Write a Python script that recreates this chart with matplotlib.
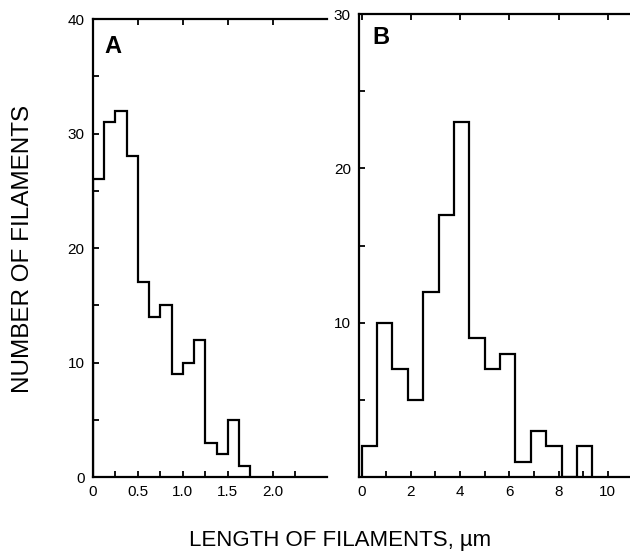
import numpy as np
import matplotlib
matplotlib.use("Agg")
import matplotlib.pyplot as plt
from matplotlib.ticker import MultipleLocator, FixedLocator

plt.rcParams['font.family'] = ['Liberation Sans', 'DejaVu Sans']

# panel A: filament length histogram, bins of 0.125 um
bin_width_a = 0.125
counts_a = [26, 31, 32, 28, 17, 14, 15, 9, 10, 12, 3, 2, 5, 1]
ticks_a = [0, 0.5, 1.0, 1.5, 2.0]
tick_labels_a = ["0", "0.5", "1.0", "1.5", "2.0"]

# panel B: bins of 0.625 um
bin_width_b = 0.625
counts_b = [2, 10, 7, 5, 12, 17, 23, 9, 7, 8, 1, 3, 2, 0, 2]
ticks_b = [0, 2, 4, 6, 8, 10]
tick_labels_b = ["0", "2", "4", "6", "8", "10"]

fig = plt.figure(figsize=(6.3, 5.6), dpi=100)
ax_a = fig.add_axes([0.1476, 0.148, 0.371, 0.818])
ax_b = fig.add_axes([0.570, 0.148, 0.430, 0.827])


def style_axis(ax):
    ax.spines["right"].set_visible(False)
    for side in ("left", "bottom", "top"):
        ax.spines[side].set_linewidth(1.6)
    ax.tick_params(which="both", direction="in", length=4, width=1.3,
                   labelsize=11, pad=6)
    ax.tick_params(which="both", top=True)


edges_a = np.arange(len(counts_a) + 1) * bin_width_a
ax_a.stairs(counts_a, edges_a, color="black", linewidth=1.6, baseline=0)
ax_a.set_xlim(0, 2.6)
ax_a.set_ylim(0, 40)
ax_a.set_xticks(ticks_a, tick_labels_a)
ax_a.xaxis.set_minor_locator(FixedLocator(np.arange(0.25, 2.51, 0.5)))
ax_a.set_yticks([0, 10, 20, 30, 40])
ax_a.yaxis.set_minor_locator(MultipleLocator(5))
style_axis(ax_a)
ax_a.tick_params(axis="x", which="minor", top=False)
ax_a.text(0.05, 0.965, "A", transform=ax_a.transAxes, fontsize=17,
          fontweight="bold", va="top", ha="left")

edges_b = np.arange(len(counts_b) + 1) * bin_width_b
ax_b.stairs(counts_b, edges_b, color="black", linewidth=1.6, baseline=0)
ax_b.set_xlim(-0.1, 10.9)
ax_b.set_ylim(0, 30)
ax_b.set_xticks(ticks_b, tick_labels_b)
ax_b.xaxis.set_minor_locator(MultipleLocator(1))
ax_b.set_yticks([10, 20, 30])
ax_b.yaxis.set_minor_locator(FixedLocator([5, 15, 25]))
style_axis(ax_b)
ax_b.tick_params(axis="x", which="minor", top=False)
ax_b.text(0.05, 0.975, "B", transform=ax_b.transAxes, fontsize=17,
          fontweight="bold", va="top", ha="left")

fig.text(0.036, 0.555, "NUMBER OF FILAMENTS", rotation=90, fontsize=17.5,
         ha="center", va="center")
fig.text(0.54, 0.035, "LENGTH OF FILAMENTS, \u00b5m", fontsize=16,
         ha="center", va="center")

plt.savefig("out.png", dpi=100)
plt.close()
